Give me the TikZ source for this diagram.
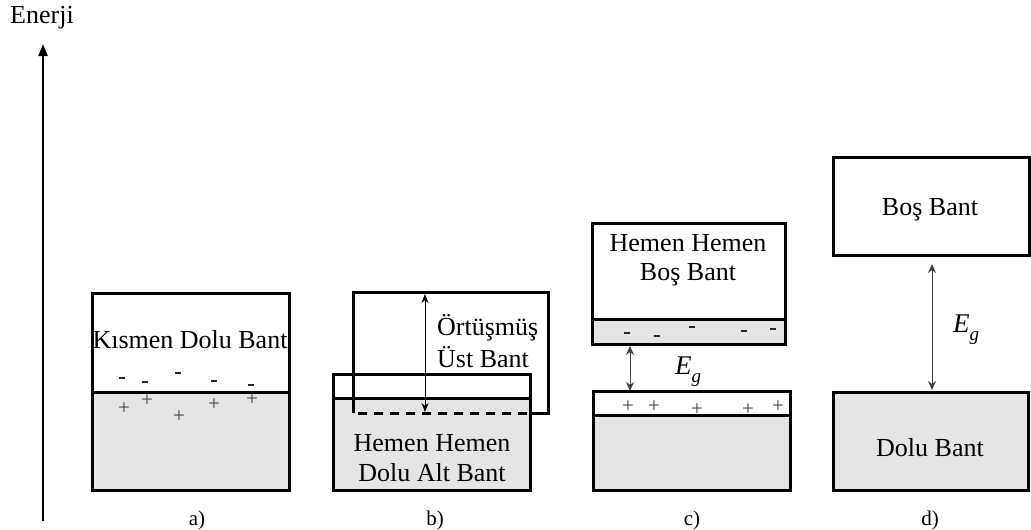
\documentclass[tikz,border=0pt]{standalone}
\usepackage{fontspec}
\setmainfont{Liberation Serif}
\usetikzlibrary{arrows.meta}
\begin{document}
\begin{tikzpicture}[x=1pt,y=-1pt,
  band/.style={draw=black, line width=3pt, fill=white},
  fillband/.style={draw=black, line width=3pt, fill=gray!20},
  lbl/.style={inner sep=0pt, font=\fontsize{26}{29}\selectfont},
  sublabel/.style={inner sep=0pt, font=\fontsize{21}{24}\selectfont},
  pl/.style={inner sep=0pt, text=black!75, font=\fontsize{21}{24}\selectfont},
  mn/.style={inner sep=0pt, rectangle, fill=black!85, minimum width=6pt, minimum height=2.6pt},
  gaparrow/.style={{Stealth[length=9pt,width=8pt]}-{Stealth[length=9pt,width=8pt]}, line width=1pt, draw=black!75},
  eg/.style={inner sep=0pt, font=\fontsize{27}{29}\selectfont},
]
\useasboundingbox (0,0) rectangle (1031,530);

% energy axis
\node[lbl] (enerji) at (42,18) {Enerji};
\coordinate (axbot) at (43,521);
\coordinate (axtop) at (43,44);
\draw[line width=2.2pt, -{Triangle[length=12pt,width=9pt]}] (axbot) -- (axtop);

% (a) partially filled band
\draw[band] (92,293) rectangle (289,392);
\draw[fillband] (92,392) rectangle (289,490);
\node[lbl] (ta) at (190,340) {Kısmen Dolu Bant};
\foreach \x/\y [count=\i] in {122/378,145/382,178/373,214/381,251/385}
  \node[mn] (am\i) at (\x,\y) {};
\foreach \x/\y [count=\i] in {124/409,147/401,179/417,214/405,252/400}
  \node[pl] (ap\i) at (\x,\y) {+};
\node[sublabel] (la) at (197,520) {a)};

% (b) overlapping bands
\draw[band] (333,374) rectangle (530,398);
\draw[fillband] (333,398) rectangle (530,490);
\draw[line width=3pt] (530,413) -- (548,413) -- (548,292) -- (353,292) -- (353,413);
\draw[line width=3pt, dash pattern=on 9pt off 7pt] (358,413) -- (530,413);
\coordinate (bt) at (425,294);
\coordinate (bb) at (425,412);
\draw[{Stealth[length=9pt,width=7pt]}-{Stealth[length=9pt,width=7pt]}, line width=1pt] (bt) -- (bb);
\node[lbl, anchor=west] (tb1) at (437,328) {Örtüşmüş};
\node[lbl, anchor=west] (tb2) at (437,357) {Üst Bant};
\node[lbl] (tb3) at (432,443) {Hemen Hemen};
\node[lbl] (tb4) at (432,473) {Dolu Alt Bant};
\node[sublabel] (lb) at (435,520) {b)};

% (c) narrow gap semiconductor
\draw[band] (592,223) rectangle (785,319);
\draw[fillband] (592,319) rectangle (785,344);
\node[lbl] (tc1) at (688,243) {Hemen Hemen};
\node[lbl] (tc2) at (688,275) {Boş Bant};
\foreach \x/\y [count=\i] in {627/333,657/336,692/327,744/331,773/329}
  \node[mn] (cm\i) at (\x,\y) {};
\draw[band] (593,391) rectangle (790,415);
\draw[fillband] (593,415) rectangle (790,490);
\foreach \x/\y [count=\i] in {628/407,654/407,697/410,748/410,778/407}
  \node[pl] (cp\i) at (\x,\y) {+};
\coordinate (ct) at (630,346);
\coordinate (cb) at (630,391);
\draw[gaparrow] (ct) -- (cb);
\node[eg] (egc) at (688,372) {\itshape E\raisebox{-0.3em}{\fontsize{19}{19}\selectfont\itshape g}};
\node[sublabel] (lc) at (692,520) {c)};

% (d) insulator
\draw[band] (833,157) rectangle (1029,255);
\node[lbl] (td1) at (930,210) {Boş Bant};
\draw[fillband] (833,392) rectangle (1028,490);
\node[lbl] (td2) at (930,448) {Dolu Bant};
\coordinate (dt) at (932,264);
\coordinate (db) at (932,390);
\draw[gaparrow] (dt) -- (db);
\node[eg] (egd) at (966,330) {\itshape E\raisebox{-0.3em}{\fontsize{19}{19}\selectfont\itshape g}};
\node[sublabel] (ld) at (930,520) {d)};
\end{tikzpicture}
\end{document}
